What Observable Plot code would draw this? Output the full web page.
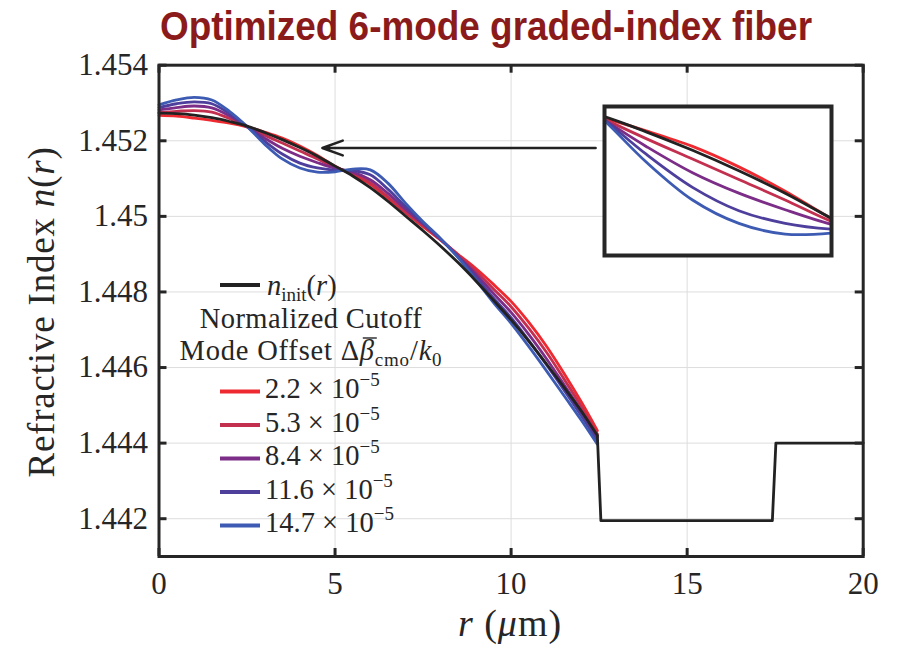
<!DOCTYPE html>
<html>
<head>
<meta charset="utf-8">
<script src="https://cdn.jsdelivr.net/npm/d3@7"></script>
<script src="https://cdn.jsdelivr.net/npm/@observablehq/plot@0.6"></script>
<style>
  body { margin: 0; background: #fff; }
  #chart { position: relative; width: 910px; height: 646px; overflow: hidden; }
  #chart > svg { position: absolute; }
</style>
</head>
<body>
<div id="chart"></div>
<script>
// Radial positions (µm) across the graded core
const radius = [0, 0.5, 1, 1.5, 2, 2.5, 3, 3.5, 4, 4.5, 5, 5.5, 6, 6.5, 7, 7.5, 8, 8.5, 9, 9.5, 10, 10.5, 11, 11.5, 12, 12.45];

// Initial graded-index profile n_init(r)
const nInit = [1.45273, 1.45272, 1.45268, 1.45261, 1.45251, 1.45239, 1.45222, 1.45203, 1.45182, 1.45159, 1.45133, 1.45107, 1.45076, 1.45040, 1.45001, 1.44962, 1.44921, 1.44877, 1.44829, 1.44778, 1.44726, 1.44670, 1.44610, 1.44548, 1.44484, 1.44420];

// Optimized profiles, one per cutoff mode offset
const n22 = [1.45267, 1.45265, 1.45260, 1.45254, 1.45247, 1.45237, 1.45223, 1.45207, 1.45186, 1.45161, 1.45133, 1.45110, 1.45085, 1.45048, 1.45010, 1.44973, 1.44937, 1.44899, 1.44862, 1.44820, 1.44775, 1.44720, 1.44657, 1.44585, 1.44508, 1.44433];
const n53 = [1.45275, 1.45278, 1.45280, 1.45276, 1.45259, 1.45237, 1.45215, 1.45194, 1.45173, 1.45152, 1.45130, 1.45114, 1.45089, 1.45052, 1.45012, 1.44976, 1.44938, 1.44897, 1.44855, 1.44808, 1.44761, 1.44704, 1.44641, 1.44570, 1.44496, 1.44424];
const n84 = [1.45282, 1.45288, 1.45292, 1.45287, 1.45266, 1.45237, 1.45207, 1.45180, 1.45159, 1.45142, 1.45127, 1.45117, 1.45097, 1.45061, 1.45019, 1.44980, 1.44939, 1.44894, 1.44847, 1.44796, 1.44746, 1.44688, 1.44624, 1.44555, 1.44484, 1.44415];
const n116 = [1.45288, 1.45298, 1.45303, 1.45298, 1.45272, 1.45238, 1.45199, 1.45165, 1.45141, 1.45128, 1.45122, 1.45121, 1.45110, 1.45072, 1.45026, 1.44983, 1.44940, 1.44892, 1.44840, 1.44784, 1.44732, 1.44672, 1.44608, 1.44541, 1.44472, 1.44406];
const n147 = [1.45295, 1.45308, 1.45315, 1.45308, 1.45278, 1.45238, 1.45191, 1.45152, 1.45128, 1.45117, 1.45118, 1.45125, 1.45123, 1.45088, 1.45035, 1.44986, 1.44941, 1.44890, 1.44832, 1.44772, 1.44717, 1.44656, 1.44592, 1.44526, 1.44460, 1.44397];

// Trench and cladding outside the core
const stepRadius = [12.55, 17.42, 17.52, 20];
const stepIndex = [1.44195, 1.44195, 1.444, 1.444];

// Legend values (×10^-5) and their colours
const offsets = ["2.2", "5.3", "8.4", "11.6", "14.7"];
const seriesColors = ["#ee2a30", "#c3304f", "#7b2d87", "#4e3f9c", "#3d5bb2"];

// Axis ticks
const xTicks = [0, 5, 10, 15, 20];
const yTicks = [1.442, 1.444, 1.446, 1.448, 1.45, 1.452, 1.454];
const yTickLabels = ["1.442", "1.444", "1.446", "1.448", "1.45", "1.452", "1.454"];

// Zoomed window shown in the inset
const insetR = [2.55, 5.0];
const insetN = [1.45095, 1.45248];

// Pointer from the inset back to the region it magnifies
const pointer = [{x1: 12.40, x2: 4.64, y: 1.45181}];

const titleText = "Optimized 6-mode graded-index fiber";

// ---- tidy rows ----
const optValues = [n22, n53, n84, n116, n147];
const optRows = offsets.flatMap((s, k) => radius.map((r, i) => ({r, n: optValues[k][i], s})));
const initRows = radius.map((r, i) => ({r, n: nInit[i]}));
const stepRows = [{r: radius[radius.length - 1], n: nInit[nInit.length - 1]}]
  .concat(stepRadius.map((r, i) => ({r, n: stepIndex[i]})));

const W = 910, H = 646;
const mT = 64.7, mR = 47.3, mB = 90, mL = 158.5;
const innerW = W - mL - mR, innerH = H - mT - mB;
const serif = "'Liberation Serif', 'Times New Roman', serif";
const ink = "#262626";
const lineW = 2.8;

const profileMarks = (clip) => [
  Plot.line(optRows, {x: "r", y: "n", z: "s", stroke: "s", strokeWidth: lineW, curve: "catmull-rom", clip}),
  Plot.line(initRows, {x: "r", y: "n", stroke: "#222", strokeWidth: lineW, curve: "catmull-rom", clip})
];

const main = Plot.plot({
  width: W, height: H,
  marginTop: mT, marginRight: mR, marginBottom: mB, marginLeft: mL,
  x: {domain: [0, 20]},
  y: {domain: [1.441, 1.454]},
  color: {domain: offsets, range: seriesColors},
  style: {fontFamily: serif, color: ink, background: "#fff"},
  marks: [
    Plot.gridX(xTicks, {stroke: "#dddddd", strokeOpacity: 1}),
    Plot.gridY(yTicks, {stroke: "#dddddd", strokeOpacity: 1}),
    Plot.axisX(xTicks, {tickSize: 0, tickPadding: 15, fontSize: 31, label: null, tickFormat: d => String(d)}),
    Plot.axisY(yTicks, {tickSize: 0, tickPadding: 11, fontSize: 31, label: null,
      tickFormat: d => yTickLabels[yTicks.indexOf(d)]}),
    ...profileMarks(false),
    Plot.line(stepRows, {x: "r", y: "n", stroke: "#222", strokeWidth: lineW}),
    Plot.arrow(pointer, {x1: "x1", x2: "x2", y1: "y", y2: "y", stroke: "#222", strokeWidth: 2.5, headLength: 13, headAngle: 40}),
    Plot.tickX(xTicks, {x: d => d, insetTop: innerH - 8, stroke: ink, strokeWidth: 3}),
    Plot.tickX(xTicks, {x: d => d, insetBottom: innerH - 8, stroke: ink, strokeWidth: 3}),
    Plot.tickY(yTicks, {y: d => d, insetRight: innerW - 8, stroke: ink, strokeWidth: 3}),
    Plot.tickY(yTicks, {y: d => d, insetLeft: innerW - 8, stroke: ink, strokeWidth: 3}),
    Plot.frame({stroke: ink, strokeWidth: 3})
  ]
});
main.style.left = "0px";
main.style.top = "0px";

const inset = Plot.plot({
  width: 227, height: 149, margin: 0,
  x: {domain: insetR, axis: null},
  y: {domain: insetN, axis: null},
  color: {domain: offsets, range: seriesColors},
  style: {background: "#fff", overflow: "visible"},
  marks: [
    ...profileMarks(true),
    Plot.frame({stroke: ink, strokeWidth: 4})
  ]
});
inset.style.left = "604px";
inset.style.top = "106px";

// ---- text: title, axis labels, legend ----
const chart = document.getElementById("chart");
const svg = d3.create("svg").attr("width", W).attr("height", H)
  .style("left", "0px").style("top", "0px").style("pointer-events", "none");
chart.append(main, inset, svg.node());

svg.append("text")
  .attr("x", 160).attr("y", 40)
  .attr("font-family", "'Liberation Sans', Arial, sans-serif")
  .attr("font-weight", "bold").attr("font-size", 40)
  .attr("fill", "#8b1a1a")
  .attr("textLength", 652).attr("lengthAdjust", "spacingAndGlyphs")
  .text(titleText);

const label = (g, parts) => {
  for (const [t, style] of parts) {
    const ts = g.append("tspan").text(t);
    if (style === "i") ts.attr("font-style", "italic");
    if (style === "sub") ts.attr("font-size", 19).attr("dy", 6);
    if (style === "subEnd") ts.attr("dy", -6);
    if (style === "sup") ts.attr("font-size", 19).attr("dy", -12);
  }
  return g;
};

const yLabel = svg.append("text")
  .attr("transform", "translate(54,312) rotate(-90)")
  .attr("text-anchor", "middle").attr("font-family", serif).attr("font-size", 37)
  .attr("letter-spacing", 0.8).attr("fill", ink);
label(yLabel, [["Refractive Index ", ""], ["n", "i"], ["(", ""], ["r", "i"], [")", ""]]);

const xLabel = svg.append("text")
  .attr("x", 510).attr("y", 636)
  .attr("text-anchor", "middle").attr("font-family", serif).attr("font-size", 38)
  .attr("letter-spacing", 1).attr("fill", ink);
label(xLabel, [["r", "i"], [" (", ""], ["μ", "i"], ["m)", ""]]);

const legend = svg.append("g").attr("font-family", serif).attr("font-size", 28.5).attr("fill", ink);
legend.append("line").attr("x1", 220).attr("x2", 260).attr("y1", 285).attr("y2", 285)
  .attr("stroke", "#222").attr("stroke-width", 4);
label(legend.append("text").attr("x", 267).attr("y", 295),
  [["n", "i"], ["init", "sub"], ["(", "subEnd"], ["r", "i"], [")", ""]]);
legend.append("text").attr("x", 311).attr("y", 328).attr("text-anchor", "middle")
  .attr("letter-spacing", 0.4).text("Normalized Cutoff");
const modeText = label(legend.append("text").attr("x", 311).attr("y", 360).attr("text-anchor", "middle")
    .attr("letter-spacing", 0.8),
  [["Mode Offset Δ", ""], ["β", "i"], ["cmo", "sub"], ["/", "subEnd"], ["k", "i"], ["0", "sub"]]);

// bar over beta, placed from the rendered glyph position
{
  const node = modeText.node();
  const idx = "Mode Offset Δ".length;
  const a = node.getStartPositionOfChar(idx), b = node.getEndPositionOfChar(idx);
  legend.append("line")
    .attr("x1", a.x + 3).attr("x2", b.x + 2)
    .attr("y1", 360 - 22).attr("y2", 360 - 22)
    .attr("stroke", ink).attr("stroke-width", 1.4);
}

offsets.forEach((o, i) => {
  const base = 398 + 33.5 * i;
  legend.append("line").attr("x1", 220).attr("x2", 260).attr("y1", base - 6.5).attr("y2", base - 6.5)
    .attr("stroke", seriesColors[i]).attr("stroke-width", 4);
  label(legend.append("text").attr("x", 265).attr("y", base),
    [[o + " × 10", ""], ["−5", "sup"]]);
});
</script>
</body>
</html>
